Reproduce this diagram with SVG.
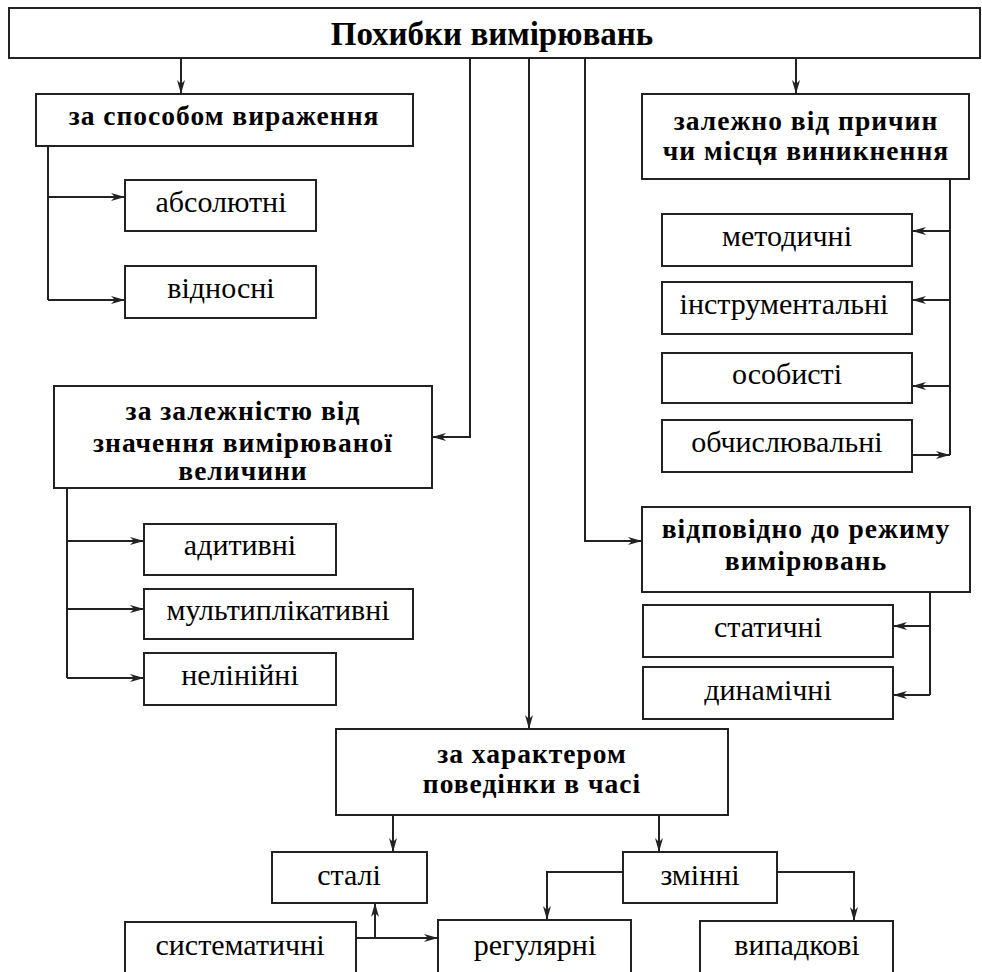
<svg xmlns="http://www.w3.org/2000/svg" width="982" height="972" viewBox="0 0 982 972">
<style>
.box{fill:#fff;stroke:#222;stroke-width:2}
.t{font-family:"Liberation Serif","Times New Roman",serif;font-size:30px;fill:#000;text-anchor:middle}
.b{font-size:27.5px;font-weight:bold;letter-spacing:1px}
.ttl{font-size:33px;font-weight:bold}
.c{fill:none;stroke:#222;stroke-width:2}
.a{marker-end:url(#ar)}
</style>
<defs>
<marker id="ar" viewBox="0 0 14 8" refX="14" refY="4" markerWidth="14" markerHeight="8" markerUnits="userSpaceOnUse" orient="auto">
<path d="M0,0 L14,4 L0,8 L4,4 z" fill="#222"/>
</marker>
</defs>
<rect width="982" height="972" fill="#fff"/>
<g id="connectors">
<path class="c a" d="M181,58 V94"/>
<path class="c a" d="M796,58 V94"/>
<path class="c a" d="M470,58 V437 H432"/>
<path class="c a" d="M529,58 V729"/>
<path class="c a" d="M585,58 V541 H642"/>
<path class="c" d="M48,146 V300"/>
<path class="c a" d="M48,197 H125"/>
<path class="c a" d="M48,300 H125"/>
<path class="c" d="M950,179 V455"/>
<path class="c a" d="M950,231 H912"/>
<path class="c a" d="M950,300 H912"/>
<path class="c a" d="M950,386 H912"/>
<path class="c a" d="M912,455 H950"/>
<path class="c" d="M67,488 V678"/>
<path class="c a" d="M67,541 H144"/>
<path class="c a" d="M67,609 H144"/>
<path class="c a" d="M67,678 H144"/>
<path class="c" d="M930,592 V695"/>
<path class="c a" d="M930,626 H893"/>
<path class="c a" d="M930,695 H893"/>
<path class="c a" d="M393,815 V852"/>
<path class="c a" d="M659,815 V852"/>
<path class="c a" d="M623,872 H547 V920"/>
<path class="c a" d="M777,872 H854 V921"/>
<path class="c a" d="M356,938 H438"/>
<path class="c a" d="M375,938 V903"/>
</g>
<g id="root"><rect class="box" x="9" y="8" width="971" height="50"/><text class="t ttl" x="492" y="45">Похибки вимірювань</text></g>
<g id="n-sposob"><rect class="box" x="36" y="94" width="377" height="52"/><text class="t b" x="224" y="125">за способом вираження</text></g>
<g id="n-abs"><rect class="box" x="125" y="180" width="191" height="51"/><text class="t" x="221" y="212">абсолютні</text></g>
<g id="n-vidn"><rect class="box" x="125" y="266" width="191" height="52"/><text class="t" x="221" y="298">відносні</text></g>
<g id="n-prychyn"><rect class="box" x="642" y="94" width="327" height="85"/><text class="t b" x="806" y="130">залежно від причин</text><text class="t b" x="806" y="160">чи місця виникнення</text></g>
<g id="n-metod"><rect class="box" x="662" y="214" width="250" height="52"/><text class="t" x="787" y="246">методичні</text></g>
<g id="n-instr"><rect class="box" x="662" y="282" width="250" height="52"/><text class="t" x="784" y="314">інструментальні</text></g>
<g id="n-osob"><rect class="box" x="662" y="353" width="250" height="50"/><text class="t" x="787" y="384">особисті</text></g>
<g id="n-obch"><rect class="box" x="662" y="420" width="250" height="52"/><text class="t" x="787" y="452">обчислювальні</text></g>
<g id="n-znach"><rect class="box" x="54" y="386" width="378" height="102"/><text class="t b" x="243" y="420">за залежністю від</text><text class="t b" x="243" y="452">значення вимірюваної</text><text class="t b" x="243" y="480">величини</text></g>
<g id="n-adyt"><rect class="box" x="144" y="524" width="192" height="51"/><text class="t" x="240" y="555">адитивні</text></g>
<g id="n-mult"><rect class="box" x="144" y="589" width="269" height="50"/><text class="t" x="278" y="620">мультиплікативні</text></g>
<g id="n-nelin"><rect class="box" x="144" y="653" width="192" height="52"/><text class="t" x="240" y="685">нелінійні</text></g>
<g id="n-rezhym"><rect class="box" x="642" y="507" width="328" height="85"/><text class="t b" x="806" y="538">відповідно до режиму</text><text class="t b" x="806" y="570">вимірювань</text></g>
<g id="n-stat"><rect class="box" x="643" y="605" width="250" height="52"/><text class="t" x="768" y="637">статичні</text></g>
<g id="n-dyn"><rect class="box" x="643" y="667" width="250" height="52"/><text class="t" x="768" y="700">динамічні</text></g>
<g id="n-kharakter"><rect class="box" x="336" y="729" width="392" height="86"/><text class="t b" x="532" y="763">за характером</text><text class="t b" x="532" y="793">поведінки в часі</text></g>
<g id="n-stali"><rect class="box" x="272" y="852" width="155" height="51"/><text class="t" x="349" y="885">сталі</text></g>
<g id="n-zminni"><rect class="box" x="623" y="852" width="154" height="51"/><text class="t" x="700" y="885">змінні</text></g>
<g id="n-system"><rect class="box" x="125" y="922" width="231" height="60"/><text class="t" x="240" y="955">систематичні</text></g>
<g id="n-regul"><rect class="box" x="438" y="920" width="193" height="62"/><text class="t" x="535" y="955">регулярні</text></g>
<g id="n-vypad"><rect class="box" x="700" y="921" width="193" height="61"/><text class="t" x="797" y="955">випадкові</text></g>
</svg>
